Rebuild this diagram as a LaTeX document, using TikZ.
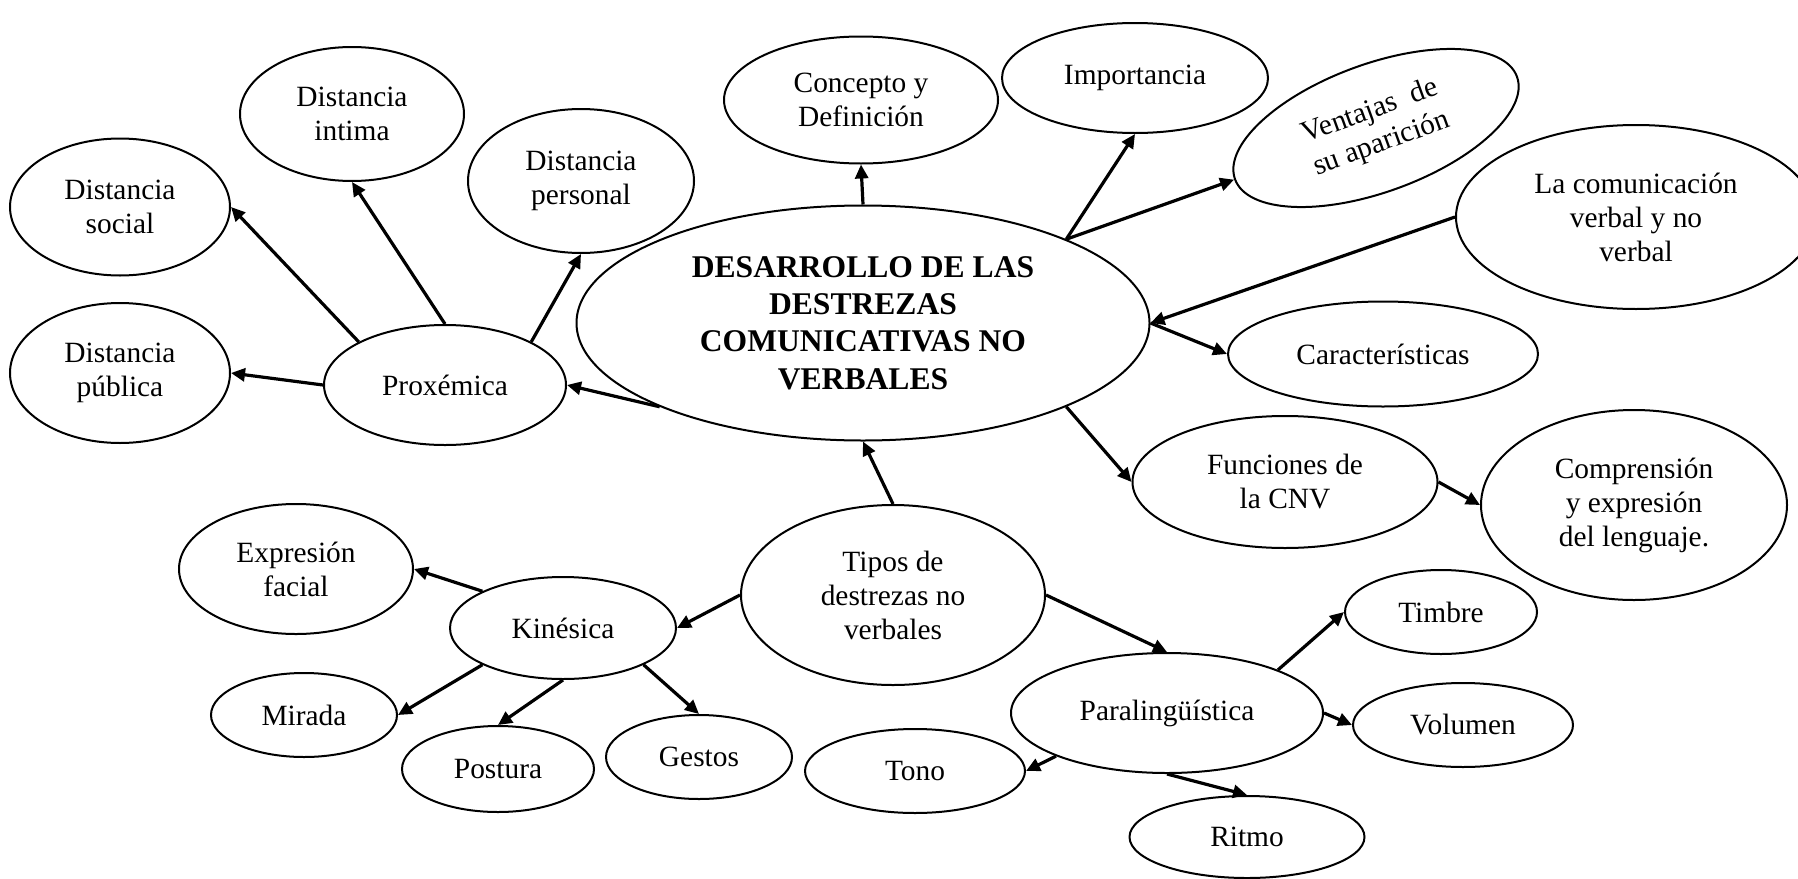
\documentclass[tikz,border=0pt]{standalone}
\usepackage{fontspec}
\setmainfont{Liberation Serif}
\usetikzlibrary{shapes.geometric,arrows.meta}
\tikzset{
  bub/.style={ellipse,draw,line width=1pt,inner sep=0pt,align=center,
    font=\fontsize{14.7pt}{17pt}\selectfont},
  conn/.style={line width=1.6pt,-{Triangle[length=7pt,width=6.5pt]}},
}
\begin{document}
\begin{tikzpicture}[x=0.5pt,y=-0.5pt]
\useasboundingbox (0,0) rectangle (1798,878);
\begin{scope}
\clip (0,0) rectangle (1798,878);
% central
\node[bub,minimum width=286.5pt,minimum height=117.5pt,font=\fontsize{15.8pt}{18.6pt}\selectfont\bfseries] (cen) at (863,323) {DESARROLLO DE LAS\\DESTREZAS\\COMUNICATIVAS NO\\VERBALES};
% proxemica group
\node[bub,minimum width=121pt,minimum height=60pt] (prox) at (445,385) {Proxémica};
\node[bub,minimum width=110pt,minimum height=68.5pt] (soc) at (120,207) {Distancia\\social};
\node[bub,minimum width=110pt,minimum height=70pt] (pub) at (120,373) {Distancia\\pública};
\node[bub,minimum width=112pt,minimum height=67pt] (int) at (352,114) {Distancia\\intima};
\node[bub,minimum width=113pt,minimum height=72pt] (per) at (581,181) {Distancia\\personal};
% top
\node[bub,minimum width=137pt,minimum height=63.5pt] (conc) at (861,100) {Concepto y\\Definición};
\node[bub,minimum width=133pt,minimum height=55pt] (imp) at (1135,78) {Importancia};
\node[bub,minimum width=150pt,minimum height=64pt,rotate=20] (ven) at (1376,128) {Ventajas\ \ de\\su aparición};
\node[bub,minimum width=180pt,minimum height=92pt] (com) at (1636,217) {La comunicación\\verbal y no\\verbal};
\node[bub,minimum width=155pt,minimum height=52.5pt] (car) at (1383,354) {Características};
\node[bub,minimum width=152.5pt,minimum height=66pt] (fun) at (1285,482) {Funciones de\\la CNV};
\node[bub,minimum width=153pt,minimum height=95pt] (comp) at (1634,505) {Comprensión\\y expresión\\del lenguaje.};
% tipos
\node[bub,minimum width=152pt,minimum height=90pt] (tip) at (893,595) {Tipos de\\destrezas no\\verbales};
\node[bub,minimum width=113pt,minimum height=51pt] (kin) at (563,628) {Kinésica};
\node[bub,minimum width=117pt,minimum height=65pt] (exp) at (296,569) {Expresión\\facial};
\node[bub,minimum width=93pt,minimum height=42pt] (mir) at (304,715) {Mirada};
\node[bub,minimum width=96pt,minimum height=43pt] (pos) at (498,769) {Postura};
\node[bub,minimum width=93pt,minimum height=42pt] (ges) at (699,757) {Gestos};
\node[bub,minimum width=156pt,minimum height=60pt] (para) at (1167,713) {Paralingüística};
\node[bub,minimum width=96pt,minimum height=42pt] (tim) at (1441,612) {Timbre};
\node[bub,minimum width=110pt,minimum height=42pt] (vol) at (1463,725) {Volumen};
\node[bub,minimum width=117.5pt,minimum height=41pt] (rit) at (1247,837) {Ritmo};
\node[bub,minimum width=110pt,minimum height=42pt] (tono) at (915,771) {Tono};
\end{scope}
% connectors
\draw[conn] (prox.north west) -- (soc.east);
\draw[conn] (prox.north) -- (int.south);
\draw[conn] (prox.north east) -- (per.south);
\draw[conn] (prox.west) -- (pub.east);
\draw[conn] (cen.south west) -- (prox.east);
\draw[conn] (cen.north) -- (conc.south);
\draw[conn] (cen.north east) -- (imp.south);
\draw[conn] (cen.north east) -- (ven.west);
\draw[conn] (com.west) -- (cen.east);
\draw[conn] (cen.east) -- (car.west);
\draw[conn] (cen.south east) -- (fun.west);
\draw[conn] (fun.east) -- (comp.west);
\draw[conn] (tip.north) -- (cen.south);
\draw[conn] (tip.west) -- (kin.east);
\draw[conn] (tip.east) -- (para.north);
\draw[conn] (kin.north west) -- (exp.east);
\draw[conn] (kin.south west) -- (mir.east);
\draw[conn] (kin.south) -- (pos.north);
\draw[conn] (kin.south east) -- (ges.north);
\draw[conn] (para.north east) -- (tim.west);
\draw[conn] (para.east) -- (vol.west);
\draw[conn] (para.south west) -- (tono.east);
\draw[conn] (para.south) -- (rit.north);
\end{tikzpicture}
\end{document}
